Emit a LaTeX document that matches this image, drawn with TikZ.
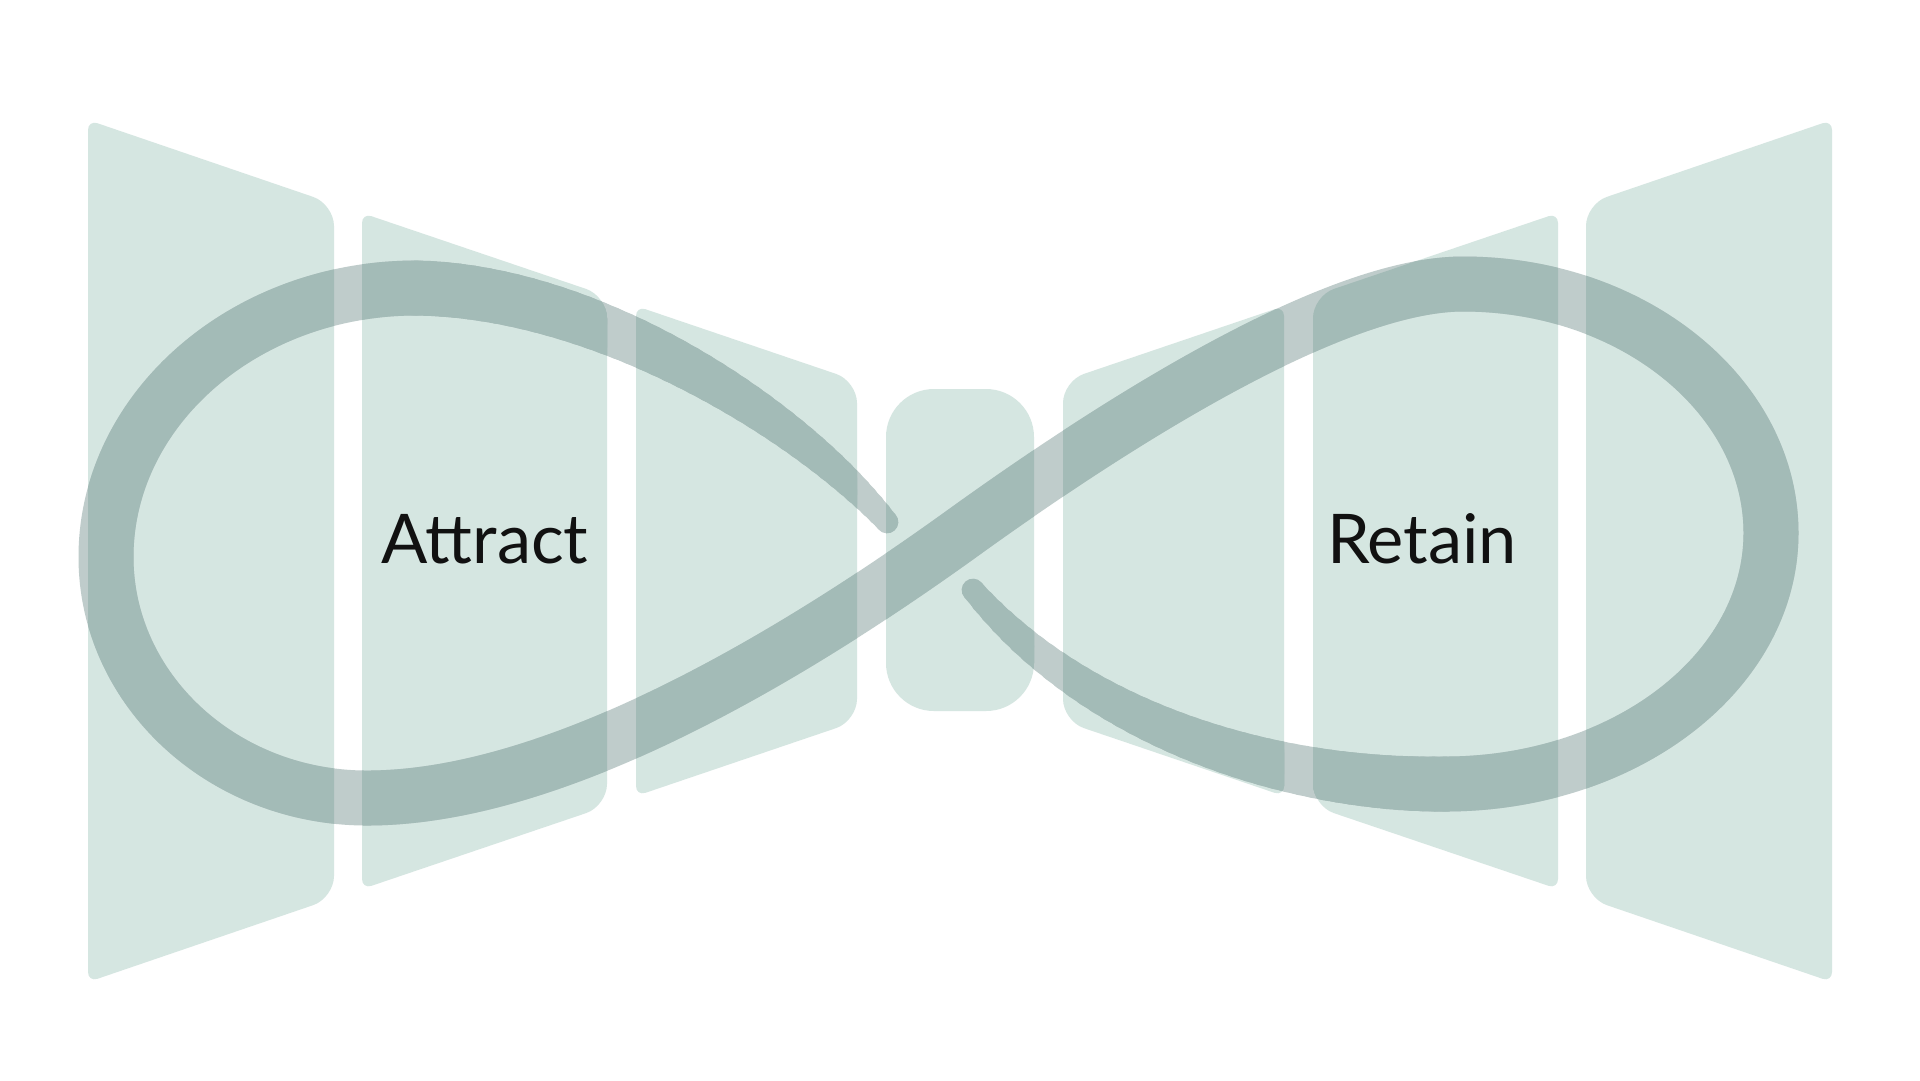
\documentclass[tikz,border=0pt]{standalone}
\usepackage{fontspec}
\setmainfont{Lato}
\definecolor{panelc}{HTML}{D5E6E1}
\definecolor{strokeon}{HTML}{A3BBB7}
\definecolor{strokeoff}{HTML}{BFCCCB}
\definecolor{txt}{HTML}{111111}
\tikzset{
  panelfill/.style={fill=panelc},
  lbl/.style={font=\fontsize{19.5}{22}\selectfont, text=txt, anchor=base, inner sep=0pt},
  loopline/.style={line width=5.5mm, line cap=round, line join=round},
}
\newcommand\bz[5]{((1-#1)*(1-#1)*(1-#1)*(#2)+3*(1-#1)*(1-#1)*(#1)*(#3)+3*(1-#1)*(#1)*(#1)*(#4)+(#1)*(#1)*(#1)*(#5))}
% all panel outlines (left three, centre, right three)
\newcommand\allpanels{%
  (88,551) [rounded corners=1mm] -- (88,120) [rounded corners=2.2mm] -- (334,204) -- (334,898) [rounded corners=1mm] -- (88,982) [sharp corners] -- cycle
  (362,551) [rounded corners=1mm] -- (362,213) [rounded corners=2.2mm] -- (607,296) -- (607,806) [rounded corners=1mm] -- (362,889) [sharp corners] -- cycle
  (636,551) [rounded corners=1mm] -- (636,306) [rounded corners=2.2mm] -- (857,381) -- (857,721) [rounded corners=1mm] -- (636,796) [sharp corners] -- cycle
  [rounded corners=4.8mm] (886,389) rectangle (1034,711) [sharp corners]
  (1284,551) [rounded corners=1mm] -- (1284,306) [rounded corners=2.2mm] -- (1063,381) -- (1063,721) [rounded corners=1mm] -- (1284,796) [sharp corners] -- cycle
  (1558,551) [rounded corners=1mm] -- (1558,213) [rounded corners=2.2mm] -- (1313,296) -- (1313,806) [rounded corners=1mm] -- (1558,889) [sharp corners] -- cycle
  (1832,551) [rounded corners=1mm] -- (1832,120) [rounded corners=2.2mm] -- (1586,204) -- (1586,898) [rounded corners=1mm] -- (1832,982) [sharp corners] -- cycle
}
% tapered piece along a cubic curve; \tapdir: 0 wide at start, 1 wide at end
\newcommand\taper[9]{%
  \foreach \k in {0,...,39} {
    \pgfmathsetmacro\ta{\k/40}
    \pgfmathsetmacro\tb{(\k+1)/40}
    \pgfmathsetmacro\xa{\bz{\ta}{#2}{#4}{#6}{#8}}
    \pgfmathsetmacro\ya{\bz{\ta}{#3}{#5}{#7}{#9}}
    \pgfmathsetmacro\xb{\bz{\tb}{#2}{#4}{#6}{#8}}
    \pgfmathsetmacro\yb{\bz{\tb}{#3}{#5}{#7}{#9}}
    \pgfmathsetmacro\tm{(\ta+\tb)/2}
    \pgfmathsetmacro\sm{\tapdir==0 ? \tm : 1-\tm}
    \pgfmathsetmacro\w{(55-33*pow(\sm,1.5))*0.1}
    \draw[#1, line width=\w mm, line cap=round] (\xa,\ya) -- (\xb,\yb);
  }%
}
\newcommand\drawloop[1]{%
  \draw[#1, loopline]
    (1445,784) .. controls (1625,784) and (1771,672) .. (1771,533)
    .. controls (1771,396) and (1633,284) .. (1463,284)
    .. controls (1330,284) and (1104,431) .. (960,535)
    .. controls (800,650) and (560,798) .. (367,798)
    .. controls (223,798) and (106,690) .. (106,557)
    .. controls (106,409) and (245,288) .. (416,288);
  \def\tapdir{0}%
  \taper{#1}{416}{288}{600}{291}{800}{420}{887}{522}%
  \def\tapdir{1}%
  \taper{#1}{973}{590}{1095}{735}{1300}{786}{1445}{784}%
}
\begin{document}
\begin{tikzpicture}[x=0.1mm, y=-0.1mm]
  \useasboundingbox (0,0) rectangle (1920,1080);
  \fill[white] (0,0) rectangle (1920,1080);
  \fill[panelfill] \allpanels;
  \drawloop{strokeoff}
  \begin{scope}
    \clip \allpanels;
    \drawloop{strokeon}
  \end{scope}
  \node[lbl] (attract) at (485,563) {Attract};
  \node[lbl] (retain) at (1422,563) {Retain};
\end{tikzpicture}
\end{document}
